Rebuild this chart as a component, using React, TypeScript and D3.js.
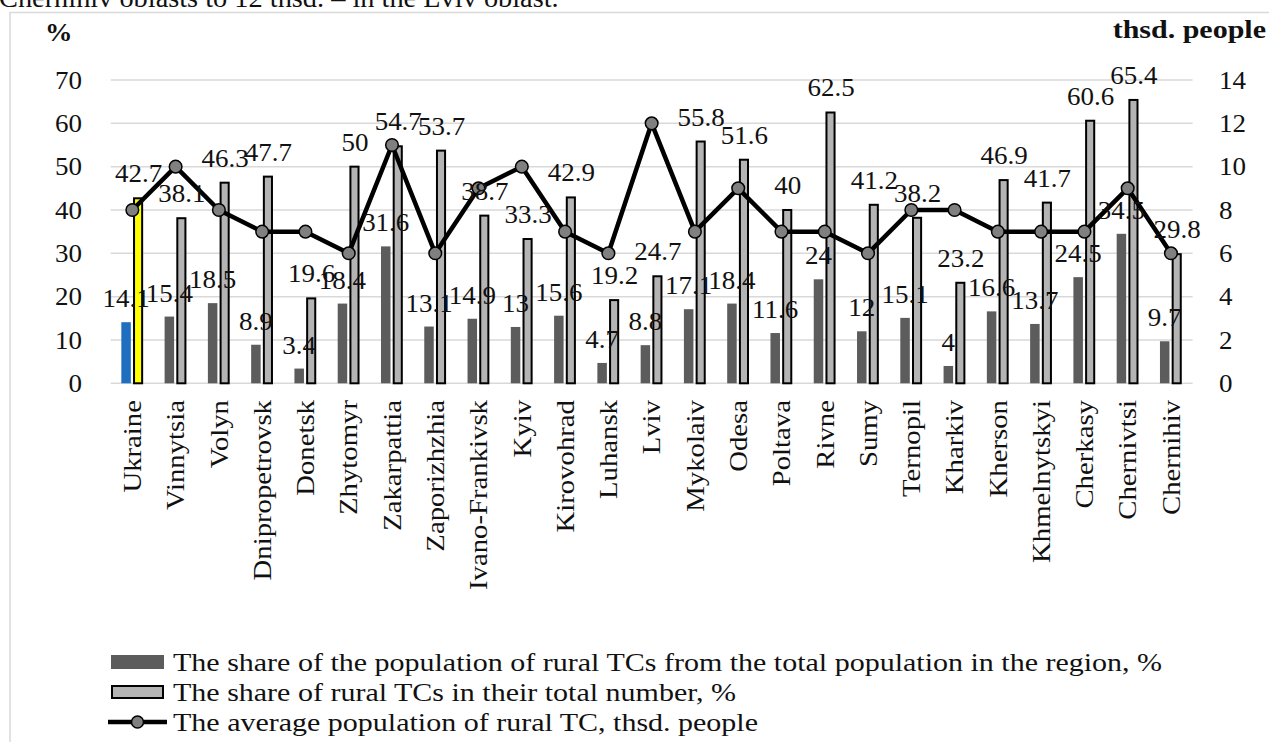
import React from "react";
import * as d3 from "d3";

const categories = [
  "Ukraine", "Vinnytsia", "Volyn", "Dnipropetrovsk", "Donetsk", "Zhytomyr",
  "Zakarpattia", "Zaporizhzhia", "Ivano-Frankivsk", "Kyiv", "Kirovohrad",
  "Luhansk", "Lviv", "Mykolaiv", "Odesa", "Poltava", "Rivne", "Sumy",
  "Ternopil", "Kharkiv", "Kherson", "Khmelnytskyi", "Cherkasy", "Chernivtsi",
  "Chernihiv",
];
// share of the population of rural TCs in the region's total population, %
const populationShare = [
  14.1, 15.4, 18.5, 8.9, 3.4, 18.4, 31.6, 13.1, 14.9, 13, 15.6, 4.7, 8.8,
  17.1, 18.4, 11.6, 24, 12, 15.1, 4, 16.6, 13.7, 24.5, 34.5, 9.7,
];
// share of rural TCs in their total number, %
const tcShare = [
  42.7, 38.1, 46.3, 47.7, 19.6, 50, 54.7, 53.7, 38.7, 33.3, 42.9, 19.2, 24.7,
  55.8, 51.6, 40, 62.5, 41.2, 38.2, 23.2, 46.9, 41.7, 60.6, 65.4, 29.8,
];
// average population of a rural TC, thsd. people
const avgPopulation = [
  8, 10, 8, 7, 7, 6, 11, 6, 9, 10, 7, 6, 12, 7, 9, 7, 7, 6, 8, 8, 7, 7, 7, 9, 6,
];
const leftTicks = [0, 10, 20, 30, 40, 50, 60, 70];
const rightTicks = [0, 2, 4, 6, 8, 10, 12, 14];
const legendLabels = [
  "The share of the population of rural TCs from the total population in the region, %",
  "The share of rural TCs in their total number, %",
  "The average population of rural TC, thsd. people",
];

const W = 1269;
const H = 742;
const FONT = "Liberation Serif, Times New Roman, serif";
const FS = 25;
const TS = 1.15; // glyphs in the source are drawn a bit wide

const DARK = "#5c5c5c";
const LIGHT = "#b4b4b4";
const GRID = "#d9d9d9";

const Txt = ({ x, y, children, anchor = "start", size = FS, stretch = TS, bold = false, rotate = false, dy = "0" }: any) => (
  <text
    transform={`translate(${x},${y})${rotate ? " rotate(-90)" : ""} scale(${stretch},1)`}
    textAnchor={anchor}
    fontSize={size}
    fontWeight={bold ? "bold" : "normal"}
    fontFamily={FONT}
    dy={dy}
    fill="#111"
  >
    {children}
  </text>
);

export default function App() {
  const x = d3.scaleBand().domain(categories).range([110.7, 1192.6]);
  const bw = x.bandwidth();
  const xs = d3.scaleBand().domain(["pop", "tc"]).range([0, bw]).paddingInner(0.24).paddingOuter(0.85);
  const yL = d3.scaleLinear().domain([0, 70]).range([383.3, 80]);
  const yR = d3.scaleLinear().domain([0, 14]).range([383.3, 80]);
  const [x0, x1] = x.range();

  const cx = (i: number) => (x(categories[i]) as number) + bw / 2;
  const line = d3
    .line<number>()
    .x((_, i) => cx(i))
    .y((d) => yR(d));

  const legendY = [662, 692, 722];

  return (
    <svg width={W} height={H} style={{ position: "absolute", left: 0, top: 0, background: "#fff" }}>
      <rect x={0} y={0} width={W} height={H} fill="#fff" />
      <Txt x={-1} y={7} size={27} stretch={1.05}>Chernihiv oblasts to 12 thsd. – in the Lviv oblast.</Txt>
      <rect x={10} y={12.5} width={W} height={H} fill="none" stroke={GRID} strokeWidth={1.5} />

      <Txt x={45} y={41} bold stretch={1.1}>%</Txt>
      <Txt x={1266} y={38} bold anchor="end" stretch={1.2}>thsd. people</Txt>

      {/* gridlines */}
      {leftTicks.map((t) => (
        <line key={t} x1={x0} x2={x1} y1={yL(t)} y2={yL(t)} stroke={GRID} strokeWidth={1.5} />
      ))}
      {leftTicks.map((t) => (
        <Txt key={t} x={82} y={yL(t)} anchor="end" dy="0.35em" stretch={1.08}>{t}</Txt>
      ))}
      {rightTicks.map((t) => (
        <Txt key={t} x={1219} y={yR(t)} dy="0.35em" stretch={1.08}>{t}</Txt>
      ))}

      {/* bars */}
      {categories.map((c, i) => {
        const bx = x(c) as number;
        return (
          <g key={c}>
            <rect
              x={bx + (xs("pop") as number)}
              y={yL(populationShare[i])}
              width={xs.bandwidth()}
              height={yL(0) - yL(populationShare[i])}
              fill={i === 0 ? "#1f6fc0" : DARK}
            />
            <rect
              x={bx + (xs("tc") as number) + 0.2}
              y={yL(tcShare[i])}
              width={xs.bandwidth() - 1.4}
              height={yL(0) - yL(tcShare[i])}
              fill={i === 0 ? "#ffff00" : LIGHT}
              stroke="#000"
              strokeWidth={2}
            />
          </g>
        );
      })}

      {/* line */}
      <path d={line(avgPopulation) || ""} fill="none" stroke="#000" strokeWidth={4.5} strokeLinejoin="round" />
      {avgPopulation.map((v, i) => (
        <circle key={i} cx={cx(i)} cy={yR(v)} r={6.3} fill="#808080" stroke="#000" strokeWidth={1.5} />
      ))}

      {/* data labels */}
      {categories.map((c, i) => {
        const bx = x(c) as number;
        const pc = bx + (xs("pop") as number) + xs.bandwidth() / 2;
        const tc = bx + (xs("tc") as number) + xs.bandwidth() / 2;
        return (
          <g key={c}>
            <Txt x={pc} y={yL(populationShare[i]) - 15} anchor="middle" stretch={1.08}>{populationShare[i]}</Txt>
            <Txt x={tc} y={yL(tcShare[i]) - 16} anchor="middle" stretch={1.08}>{tcShare[i]}</Txt>
          </g>
        );
      })}

      {/* category labels */}
      {categories.map((c, i) => (
        <Txt key={c} x={cx(i)} y={400} rotate anchor="end" dy="0.35em">{c}</Txt>
      ))}

      {/* legend */}
      <rect x={111} y={legendY[0] - 7} width={53} height={14} fill={DARK} />
      <rect x={112} y={legendY[1] - 6} width={51} height={12} fill={LIGHT} stroke="#000" strokeWidth={2} />
      <line x1={108} x2={167} y1={legendY[2]} y2={legendY[2]} stroke="#000" strokeWidth={4.5} />
      <circle cx={137.5} cy={legendY[2]} r={6} fill="#808080" stroke="#000" strokeWidth={1.5} />
      {legendLabels.map((l, i) => (
        <Txt key={l} x={173} y={legendY[i]} dy="0.35em" stretch={1.2}>{l}</Txt>
      ))}
    </svg>
  );
}
